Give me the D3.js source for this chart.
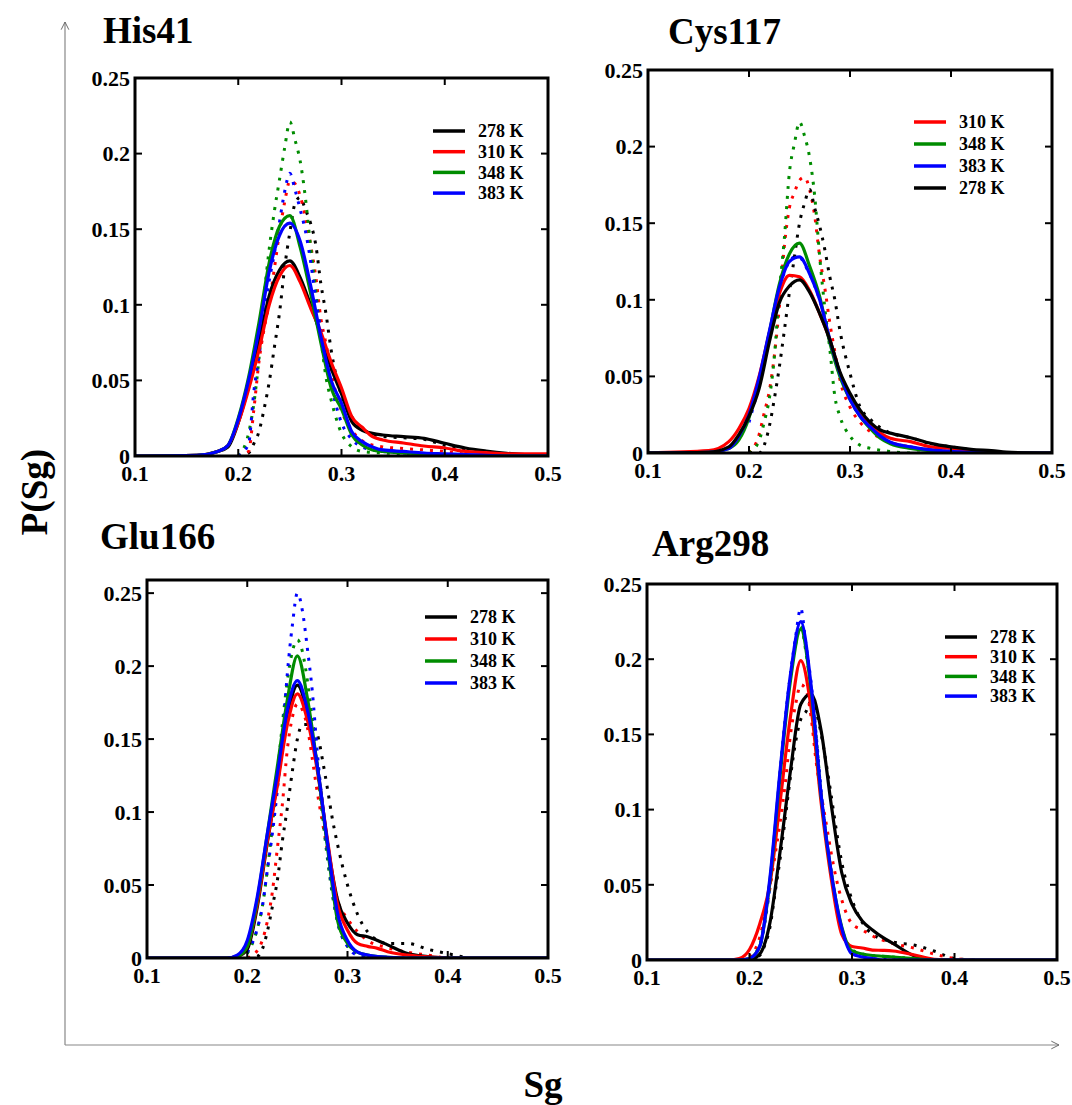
<!DOCTYPE html>
<html>
<head>
<meta charset="utf-8">
<script src="https://cdn.jsdelivr.net/npm/d3@7"></script>
<style>
  body { margin: 0; background: #fff; }
  svg { display: block; font-family: "Liberation Serif", "Times New Roman", serif; font-weight: bold; }
</style>
</head>
<body>
<svg id="chart" width="1072" height="1105"></svg>
<script>
// temperatures, colours in the same order
const temps = ["278 K", "310 K", "348 K", "383 K"];
const colors = ["#000000", "#ff0000", "#008c00", "#0000ff"];

// Sg grid of the solid curves
const sgSolid = [0.10, 0.16, 0.18, 0.19, 0.20, 0.21, 0.22, 0.23, 0.24, 0.25, 0.26, 0.27, 0.28,
  0.29, 0.30, 0.31, 0.32, 0.33, 0.34, 0.36, 0.38, 0.40, 0.42, 0.44, 0.46, 0.50];
// Sg grid of the dotted curves
const sgDotted = [0.20, 0.21, 0.215, 0.22, 0.225, 0.23, 0.235, 0.24, 0.245, 0.25, 0.255, 0.26,
  0.265, 0.27, 0.275, 0.28, 0.285, 0.29, 0.30, 0.31, 0.32, 0.34, 0.36, 0.38, 0.40, 0.42];

// His41 (rows: 278, 310, 348, 383 K)
const his41Solid = [
  [0, 0.0005, 0.003, 0.006, 0.022, 0.046, 0.075, 0.106, 0.123, 0.129, 0.118, 0.100, 0.080, 0.058, 0.041, 0.0227, 0.017, 0.015, 0.0139, 0.0128, 0.0117, 0.0084, 0.0053, 0.0033, 0.0018, 0.0003],
  [0, 0.0005, 0.003, 0.007, 0.022, 0.044, 0.070, 0.100, 0.119, 0.126, 0.115, 0.098, 0.082, 0.062, 0.045, 0.026, 0.019, 0.0128, 0.0106, 0.0086, 0.0066, 0.0053, 0.003, 0.0022, 0.0015, 0.0015],
  [0, 0.0005, 0.003, 0.007, 0.025, 0.052, 0.088, 0.128, 0.152, 0.159, 0.138, 0.108, 0.075, 0.045, 0.031, 0.014, 0.0073, 0.004, 0.003, 0.002, 0.0015, 0.001, 0.0005, 0, 0, 0],
  [0, 0.0005, 0.003, 0.007, 0.024, 0.050, 0.083, 0.122, 0.146, 0.154, 0.142, 0.113, 0.079, 0.050, 0.035, 0.016, 0.0095, 0.006, 0.004, 0.003, 0.002, 0.0015, 0.001, 0.0005, 0, 0]
];
const his41Dotted = [
  [0, 0.002, 0.008, 0.016, 0.031, 0.049, 0.072, 0.095, 0.125, 0.148, 0.167, 0.171, 0.163, 0.154, 0.140, 0.114, 0.094, 0.070, 0.040, 0.026, 0.018, 0.013, 0.012, 0.011, 0.007, 0.004],
  [0, 0.003, 0.030, 0.062, 0.084, 0.101, 0.124, 0.148, 0.168, 0.182, 0.180, 0.172, 0.158, 0.140, 0.119, 0.091, 0.074, 0.055, 0.030, 0.017, 0.010, 0.006, 0.005, 0.004, 0.003, 0.001],
  [0, 0.015, 0.034, 0.064, 0.105, 0.137, 0.162, 0.183, 0.204, 0.221, 0.209, 0.195, 0.171, 0.139, 0.110, 0.078, 0.052, 0.037, 0.015, 0.006, 0.003, 0.002, 0.0015, 0.001, 0.001, 0.0005],
  [0, 0.008, 0.042, 0.066, 0.093, 0.116, 0.134, 0.155, 0.175, 0.187, 0.176, 0.163, 0.149, 0.129, 0.104, 0.083, 0.065, 0.047, 0.022, 0.011, 0.006, 0.003, 0.002, 0.0015, 0.001, 0.0005]
];

// Cys117
const cys117Solid = [
  [0, 0.0005, 0.004, 0.012, 0.024, 0.042, 0.072, 0.098, 0.109, 0.113, 0.105, 0.091, 0.074, 0.053, 0.039, 0.028, 0.020, 0.015, 0.013, 0.010, 0.0063, 0.004, 0.0024, 0.0015, 0.0004, 0],
  [0, 0.0015, 0.0074, 0.016, 0.029, 0.050, 0.078, 0.104, 0.116, 0.115, 0.106, 0.091, 0.074, 0.052, 0.037, 0.025, 0.018, 0.013, 0.0096, 0.0074, 0.004, 0.003, 0.0015, 0.0005, 0, 0],
  [0, 0.0005, 0.003, 0.0085, 0.023, 0.047, 0.078, 0.110, 0.130, 0.137, 0.122, 0.102, 0.072, 0.050, 0.035, 0.024, 0.016, 0.0096, 0.006, 0.003, 0.0015, 0.0005, 0, 0, 0, 0],
  [0, 0.0005, 0.003, 0.011, 0.025, 0.049, 0.079, 0.108, 0.125, 0.128, 0.117, 0.100, 0.074, 0.052, 0.035, 0.024, 0.017, 0.011, 0.007, 0.004, 0.002, 0.001, 0.0005, 0, 0, 0]
];
const cys117Dotted = [
  [0, 0, 0.005, 0.017, 0.035, 0.056, 0.080, 0.105, 0.128, 0.150, 0.163, 0.172, 0.160, 0.148, 0.133, 0.115, 0.100, 0.080, 0.052, 0.030, 0.022, 0.013, 0.010, 0.006, 0.004, 0.002],
  [0, 0.012, 0.026, 0.040, 0.063, 0.095, 0.135, 0.160, 0.170, 0.178, 0.180, 0.172, 0.155, 0.128, 0.108, 0.085, 0.066, 0.048, 0.030, 0.020, 0.014, 0.007, 0.004, 0.002, 0.001, 0],
  [0, 0.008, 0.020, 0.035, 0.062, 0.105, 0.140, 0.183, 0.202, 0.216, 0.207, 0.193, 0.168, 0.128, 0.095, 0.068, 0.037, 0.024, 0.011, 0.005, 0.003, 0.001, 0, 0, 0, 0],
  [0.02, 0.045, 0.060, 0.075, 0.092, 0.107, 0.118, 0.125, 0.128, 0.128, 0.123, 0.117, 0.109, 0.100, 0.088, 0.074, 0.063, 0.052, 0.035, 0.024, 0.017, 0.007, 0.004, 0.002, 0.001, 0.0005]
];

// Glu166
const glu166Solid = [
  [0, 0, 0, 0.001, 0.006, 0.035, 0.079, 0.120, 0.165, 0.187, 0.168, 0.131, 0.079, 0.040, 0.024, 0.016, 0.0146, 0.012, 0.009, 0.003, 0.001, 0, 0, 0, 0, 0],
  [0, 0, 0, 0.001, 0.008, 0.037, 0.080, 0.118, 0.160, 0.181, 0.163, 0.128, 0.081, 0.037, 0.019, 0.010, 0.008, 0.0066, 0.0043, 0.002, 0.0008, 0, 0, 0, 0, 0],
  [0, 0, 0, 0.001, 0.008, 0.040, 0.085, 0.131, 0.177, 0.207, 0.178, 0.131, 0.076, 0.026, 0.010, 0.004, 0.002, 0.001, 0.0005, 0, 0, 0, 0, 0, 0, 0],
  [0, 0, 0, 0.002, 0.012, 0.042, 0.085, 0.126, 0.170, 0.190, 0.170, 0.131, 0.079, 0.031, 0.012, 0.004, 0.002, 0.001, 0.0005, 0, 0, 0, 0, 0, 0, 0]
];
const glu166Dotted = [
  [0, 0.001, 0.006, 0.018, 0.035, 0.053, 0.080, 0.103, 0.128, 0.150, 0.160, 0.160, 0.158, 0.153, 0.136, 0.116, 0.095, 0.078, 0.050, 0.030, 0.018, 0.010, 0.010, 0.006, 0.003, 0],
  [0, 0.005, 0.012, 0.025, 0.045, 0.075, 0.105, 0.143, 0.165, 0.174, 0.170, 0.158, 0.136, 0.113, 0.093, 0.074, 0.056, 0.040, 0.027, 0.018, 0.012, 0.007, 0.004, 0.002, 0, 0],
  [0.003, 0.020, 0.035, 0.060, 0.090, 0.125, 0.160, 0.190, 0.210, 0.218, 0.210, 0.190, 0.162, 0.130, 0.098, 0.068, 0.043, 0.025, 0.008, 0.003, 0.001, 0, 0, 0, 0, 0],
  [0.004, 0.020, 0.035, 0.060, 0.085, 0.115, 0.150, 0.195, 0.228, 0.250, 0.238, 0.212, 0.182, 0.140, 0.105, 0.072, 0.045, 0.025, 0.008, 0.002, 0.001, 0, 0, 0, 0, 0]
];

// Arg298
const arg298Solid = [
  [0, 0, 0, 0, 0, 0.004, 0.025, 0.073, 0.126, 0.170, 0.177, 0.152, 0.102, 0.058, 0.037, 0.026, 0.020, 0.015, 0.011, 0.003, 0, 0, 0, 0, 0, 0],
  [0, 0, 0, 0.001, 0.007, 0.024, 0.051, 0.106, 0.162, 0.199, 0.168, 0.104, 0.053, 0.017, 0.009, 0.008, 0.0066, 0.0064, 0.006, 0.0035, 0.0005, 0, 0, 0, 0, 0],
  [0, 0, 0, 0, 0.001, 0.009, 0.053, 0.124, 0.186, 0.220, 0.180, 0.108, 0.057, 0.022, 0.006, 0.004, 0.003, 0.0025, 0.002, 0.001, 0, 0, 0, 0, 0, 0],
  [0, 0, 0, 0, 0.001, 0.009, 0.055, 0.127, 0.190, 0.225, 0.183, 0.109, 0.057, 0.021, 0.004, 0.002, 0.001, 0, 0, 0, 0, 0, 0, 0, 0, 0]
];
const arg298Dotted = [
  [0, 0.003, 0.010, 0.022, 0.045, 0.068, 0.095, 0.122, 0.145, 0.160, 0.165, 0.172, 0.165, 0.150, 0.130, 0.108, 0.085, 0.065, 0.040, 0.025, 0.017, 0.012, 0.010, 0.006, 0.001, 0],
  [0.002, 0.015, 0.030, 0.048, 0.070, 0.092, 0.118, 0.150, 0.170, 0.183, 0.180, 0.162, 0.132, 0.110, 0.090, 0.070, 0.053, 0.040, 0.024, 0.020, 0.016, 0.011, 0.008, 0.004, 0.001, 0],
  [0.001, 0.010, 0.026, 0.052, 0.088, 0.125, 0.160, 0.190, 0.210, 0.222, 0.205, 0.180, 0.148, 0.110, 0.080, 0.057, 0.036, 0.021, 0.007, 0.004, 0.003, 0.002, 0.001, 0, 0, 0],
  [0.001, 0.009, 0.025, 0.050, 0.085, 0.125, 0.160, 0.190, 0.215, 0.234, 0.210, 0.185, 0.150, 0.112, 0.080, 0.058, 0.035, 0.020, 0.005, 0.002, 0.001, 0, 0, 0, 0, 0]
];

const xTicks = [0.1, 0.2, 0.3, 0.4, 0.5];
const yTicks = [0, 0.05, 0.1, 0.15, 0.2, 0.25];

const panels = [
  { name: "His41", solid: his41Solid, dotted: his41Dotted, order: [0, 1, 2, 3],
    box: { l: 135, t: 78, r: 548, b: 456 }, yMax: 0.25, title: [103, 43],
    legend: { x: 433, y: 131, gap: 20.7 } },
  { name: "Cys117", solid: cys117Solid, dotted: cys117Dotted, order: [1, 2, 3, 0],
    box: { l: 648, t: 70, r: 1052, b: 453 }, yMax: 0.25, title: [668, 44],
    legend: { x: 914, y: 122, gap: 22 } },
  { name: "Glu166", solid: glu166Solid, dotted: glu166Dotted, order: [0, 1, 2, 3],
    box: { l: 147, t: 580, r: 548, b: 958 }, yMax: 0.259, title: [100, 549],
    legend: { x: 425, y: 617, gap: 22 } },
  { name: "Arg298", solid: arg298Solid, dotted: arg298Dotted, order: [0, 1, 2, 3],
    box: { l: 647, t: 584, r: 1057, b: 960 }, yMax: 0.25, title: [652, 556],
    legend: { x: 945, y: 637, gap: 19.7 } }
];

const svg = d3.select("#chart");
const fmt = (d) => String(+d.toFixed(2));

// outer axis arrows
const defs = svg.append("defs");
defs.append("marker")
  .attr("id", "arrow")
  .attr("viewBox", "0 0 10 10")
  .attr("refX", 9).attr("refY", 5)
  .attr("markerWidth", 8).attr("markerHeight", 8)
  .attr("orient", "auto")
  .append("path")
  .attr("d", "M1,1 L9,5 L1,9")
  .attr("fill", "none")
  .attr("stroke", "#666")
  .attr("stroke-width", 1);

svg.append("line")
  .attr("x1", 65).attr("y1", 1045).attr("x2", 65).attr("y2", 22)
  .attr("stroke", "#888").attr("stroke-width", 1.2)
  .attr("marker-end", "url(#arrow)");
svg.append("line")
  .attr("x1", 65).attr("y1", 1045).attr("x2", 1059).attr("y2", 1045)
  .attr("stroke", "#888").attr("stroke-width", 1.2)
  .attr("marker-end", "url(#arrow)");

svg.append("text")
  .attr("transform", "translate(47,492) rotate(-90)")
  .attr("text-anchor", "middle")
  .attr("font-size", 37)
  .text("P(Sg)");
svg.append("text")
  .attr("x", 543).attr("y", 1097)
  .attr("text-anchor", "middle")
  .attr("font-size", 37)
  .text("Sg");

panels.forEach((p, pi) => {
  const b = p.box;
  const x = d3.scaleLinear().domain([0.1, 0.5]).range([b.l, b.r]);
  const y = d3.scaleLinear().domain([0, p.yMax]).range([b.b, b.t]);
  const g = svg.append("g");

  const clipId = "clip" + pi;
  defs.append("clipPath").attr("id", clipId)
    .append("rect")
    .attr("x", b.l).attr("y", b.t - 4)
    .attr("width", b.r - b.l).attr("height", b.b - b.t + 4);

  const plot = g.append("g").attr("clip-path", `url(#${clipId})`);

  const solidLine = d3.line()
    .x((d, i) => x(sgSolid[i]))
    .y((d) => y(d))
    .curve(d3.curveMonotoneX);
  const dottedLine = d3.line()
    .x((d, i) => x(sgDotted[i]))
    .y((d) => y(d))
    .curve(d3.curveMonotoneX);

  p.order.forEach((k) => {
    plot.append("path")
      .attr("d", dottedLine(p.dotted[k]))
      .attr("fill", "none")
      .attr("stroke", colors[k])
      .attr("stroke-width", 3)
      .attr("stroke-dasharray", "3,7");
  });
  p.order.forEach((k) => {
    plot.append("path")
      .attr("d", solidLine(p.solid[k]))
      .attr("fill", "none")
      .attr("stroke", colors[k])
      .attr("stroke-width", 3.2)
      .attr("stroke-linejoin", "round");
  });

  // frame
  g.append("rect")
    .attr("x", b.l).attr("y", b.t)
    .attr("width", b.r - b.l).attr("height", b.b - b.t)
    .attr("fill", "none")
    .attr("stroke", "#000")
    .attr("stroke-width", 3);

  // inward ticks on all four sides
  const tl = 7;
  xTicks.slice(1, -1).forEach((t) => {
    g.append("line").attr("x1", x(t)).attr("x2", x(t))
      .attr("y1", b.b).attr("y2", b.b - tl).attr("stroke", "#000").attr("stroke-width", 2);
    g.append("line").attr("x1", x(t)).attr("x2", x(t))
      .attr("y1", b.t).attr("y2", b.t + tl).attr("stroke", "#000").attr("stroke-width", 2);
  });
  yTicks.filter((t) => t > 0 && y(t) > b.t + 2).forEach((t) => {
    g.append("line").attr("x1", b.l).attr("x2", b.l + tl)
      .attr("y1", y(t)).attr("y2", y(t)).attr("stroke", "#000").attr("stroke-width", 2);
    g.append("line").attr("x1", b.r).attr("x2", b.r - tl)
      .attr("y1", y(t)).attr("y2", y(t)).attr("stroke", "#000").attr("stroke-width", 2);
  });

  // tick labels
  g.selectAll(".xl").data(xTicks).enter().append("text")
    .attr("x", (d) => x(d)).attr("y", b.b + 25)
    .attr("text-anchor", "middle")
    .attr("font-size", 22)
    .text(fmt);
  g.selectAll(".yl").data(yTicks).enter().append("text")
    .attr("x", b.l - 5).attr("y", (d) => y(d))
    .attr("dy", "0.35em")
    .attr("text-anchor", "end")
    .attr("font-size", 22)
    .text(fmt);

  // title
  g.append("text")
    .attr("x", p.title[0]).attr("y", p.title[1])
    .attr("font-size", 37)
    .text(p.name);

  // legend
  const lg = g.append("g");
  p.order.forEach((k, i) => {
    const ly = p.legend.y + i * p.legend.gap;
    lg.append("line")
      .attr("x1", p.legend.x).attr("x2", p.legend.x + 32)
      .attr("y1", ly).attr("y2", ly)
      .attr("stroke", colors[k]).attr("stroke-width", 3.5);
    lg.append("text")
      .attr("x", p.legend.x + 45).attr("y", ly)
      .attr("dy", "0.35em")
      .attr("font-size", 18)
      .text(temps[k]);
  });
});
</script>
</body>
</html>
